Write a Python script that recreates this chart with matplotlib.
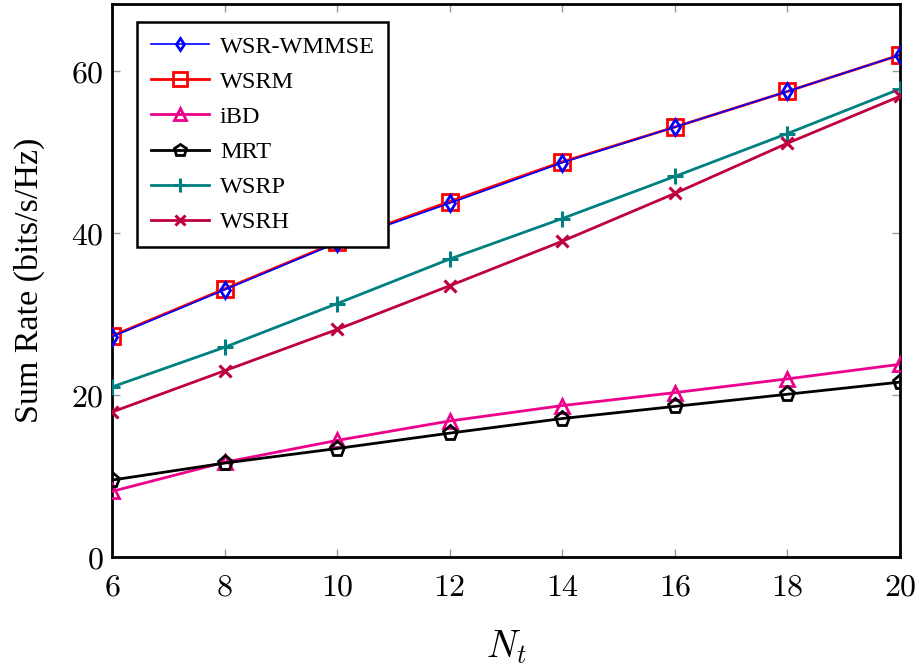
import matplotlib
matplotlib.use("Agg")
import matplotlib.pyplot as plt
from matplotlib.ticker import FuncFormatter

plt.rcParams['font.family'] = ['Liberation Serif', 'DejaVu Serif']
plt.rcParams['mathtext.fontset'] = 'cm'

nt = [6, 8, 10, 12, 14, 16, 18, 20]
wsr_wmmse = [27.2, 33.0, 38.8, 43.7, 48.7, 53.1, 57.5, 62.0]
wsrm = [27.3, 33.1, 38.9, 43.9, 48.8, 53.1, 57.5, 62.0]
ibd = [8.1, 11.7, 14.4, 16.8, 18.7, 20.3, 22.0, 23.8]
mrt = [9.5, 11.6, 13.4, 15.3, 17.1, 18.6, 20.1, 21.6]
wsrp = [21.0, 25.9, 31.3, 36.8, 41.8, 47.0, 52.3, 57.8]
wsrh = [17.9, 23.0, 28.1, 33.5, 39.0, 44.9, 51.1, 56.9]
xticks = [6, 8, 10, 12, 14, 16, 18, 20]
yticks = [0, 20, 40, 60]

fig = plt.figure(figsize=(9.2, 6.65), dpi=100)
ax = fig.add_axes([0.1217, 0.1624, 0.8565, 0.8316])

lw = 2.0
ax.plot(nt, wsr_wmmse, color='#0000FF', lw=1.2, marker='d', ms=8, mfc='none', mew=2.0, label='WSR-WMMSE', zorder=5)
ax.plot(nt, wsrm, color='#FF0000', lw=lw, marker='s', ms=12, mfc='none', mew=2.0, label='WSRM', zorder=4)
ax.plot(nt, ibd, color='#EC008C', lw=lw, marker='^', ms=10, mfc='none', mew=2.0, label='iBD', zorder=4)
ax.plot(nt, mrt, color='black', lw=lw, marker='p', ms=11, mfc='none', mew=2.0, label='MRT', zorder=4)
ax.plot(nt, wsrp, color='#008080', lw=lw, marker='+', ms=12, mew=2.2, label='WSRP', zorder=4)
ax.plot(nt, wsrh, color='#BF0040', lw=lw, marker='x', ms=9, mew=2.2, label='WSRH', zorder=4)

ax.set_xlim(6, 20)
ax.set_ylim(0, 68.3)
ax.set_xticks(xticks)
ax.set_yticks(yticks)
fmt = FuncFormatter(lambda v, p: r'$%d$' % v)
ax.xaxis.set_major_formatter(fmt)
ax.yaxis.set_major_formatter(fmt)
ax.tick_params(direction='in', length=6, width=1.0, color='#999999', labelsize=23,
               top=True, right=True)
ax.tick_params(axis='x', pad=12)
ax.tick_params(axis='y', pad=6)
for s in ax.spines.values():
    s.set_linewidth(2.0)
    s.set_color('black')

ax.set_xlabel(r'$N_t$', fontsize=27, labelpad=19)
ax.set_ylabel('Sum Rate (bits/s/Hz)', fontsize=24.5, labelpad=19)

leg = ax.legend(loc='upper left', bbox_to_anchor=(0.032, 0.967), borderaxespad=0,
                fontsize=17.5, frameon=True, fancybox=False, edgecolor='black', framealpha=1,
                handlelength=2.4, labelspacing=0.54, borderpad=0.55, handletextpad=0.45,
                markerscale=0.8)
leg.get_frame().set_linewidth(1.8)

fig.savefig('out.png', dpi=100)
